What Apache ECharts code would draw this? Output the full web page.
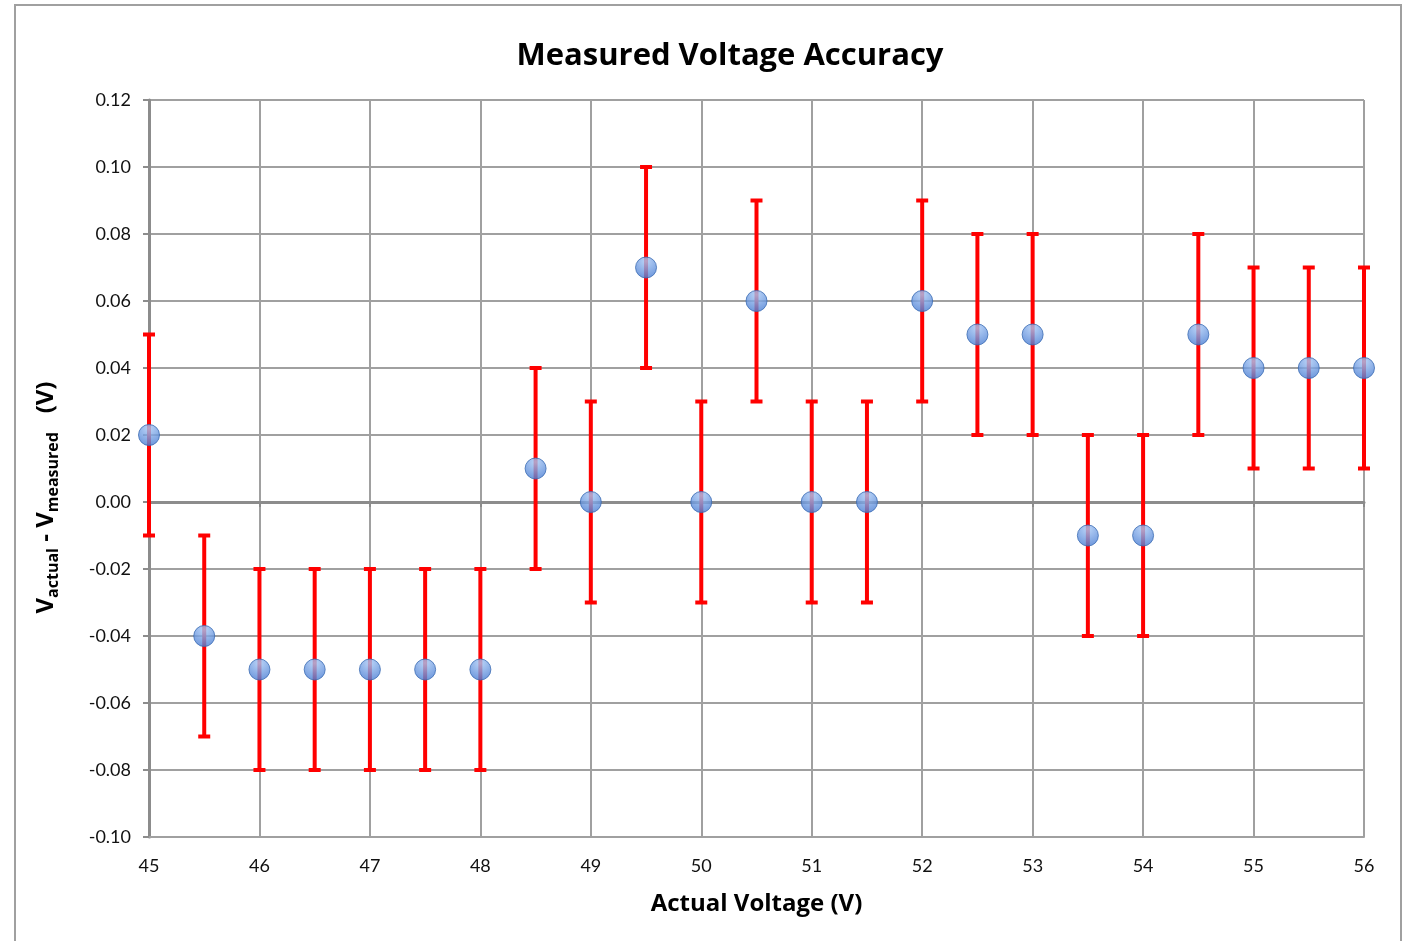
<!DOCTYPE html>
<html>
<head>
<meta charset="utf-8">
<script src="https://cdn.jsdelivr.net/npm/echarts@6/dist/echarts.min.js"></script>
<style>
html,body{margin:0;padding:0;background:#fff;}
#chart{width:1412px;height:941px;}
</style>
</head>
<body>
<div id="chart"></div>
<script>
// Data
var actualVoltage = [45, 45.5, 46, 46.5, 47, 47.5, 48, 48.5, 49, 49.5, 50, 50.5, 51, 51.5, 52, 52.5, 53, 53.5, 54, 54.5, 55, 55.5, 56];
var voltageDiff   = [0.02, -0.04, -0.05, -0.05, -0.05, -0.05, -0.05, 0.01, 0.00, 0.07, 0.00, 0.06, 0.00, 0.00, 0.06, 0.05, 0.05, -0.01, -0.01, 0.05, 0.04, 0.04, 0.04];
var errorAmount   = [0.03, 0.03, 0.03, 0.03, 0.03, 0.03, 0.03, 0.03, 0.03, 0.03, 0.03, 0.03, 0.03, 0.03, 0.03, 0.03, 0.03, 0.03, 0.03, 0.03, 0.03, 0.03, 0.03];
var titleText = 'Measured Voltage Accuracy';
var xAxisTitle = 'Actual Voltage (V)';

var pointData = actualVoltage.map(function (x, i) { return [x, voltageDiff[i]]; });
var errorData = actualVoltage.map(function (x, i) {
  return [x, voltageDiff[i] - errorAmount[i], voltageDiff[i] + errorAmount[i]];
});

var FONT = 'Lato, "Open Sans", sans-serif';
var BOLD = '"Open Sans", sans-serif';
var chart = echarts.init(document.getElementById('chart'));
chart.setOption({
  backgroundColor: '#fff',
  animation: false,
  graphic: [{
    type: 'rect',
    shape: { x: 15, y: 5, width: 1386, height: 960 },
    style: { fill: null, stroke: '#a0a0a0', lineWidth: 2 },
    silent: true, z: -1
  }, {
    type: 'text',
    x: 730, y: 56,
    style: {
      text: titleText, fontFamily: BOLD, fontSize: 31, fontWeight: 'bold', fill: '#000',
      align: 'center', verticalAlign: 'middle'
    },
    silent: true
  }],
  grid: { left: 149, right: 48, top: 100, bottom: 104 },
  xAxis: [{
    type: 'value',
    min: 45, max: 56, interval: 1,
    name: xAxisTitle,
    nameLocation: 'middle',
    nameGap: 55,
    nameTextStyle: { fontFamily: BOLD, fontSize: 24, fontWeight: 'bold', color: '#000' },
    axisLine: { onZero: false, show: true, lineStyle: { color: '#a0a0a0', width: 2 } },
    axisTick: { show: false },
    axisLabel: { fontFamily: FONT, fontSize: 18, color: '#111', margin: 20 },
    splitLine: { show: true, lineStyle: { color: '#a0a0a0', width: 2 } }
  }, {
    type: 'value',
    position: 'bottom',
    min: 45, max: 56, interval: 1,
    axisLine: { onZero: true, show: true, lineStyle: { color: '#8c8c8c', width: 3 } },
    axisTick: { show: true, length: 5, lineStyle: { color: '#8c8c8c', width: 2 } },
    axisLabel: { show: false },
    splitLine: { show: false }
  }],
  yAxis: {
    type: 'value',
    min: -0.10, max: 0.12, interval: 0.02,
    name: '{v|V}{s|actual}{v| - V}{s|measured}{v|   (V)}',
    nameLocation: 'middle',
    nameGap: 88,
    nameTextStyle: {
      fontFamily: FONT, color: '#000',
      padding: [0, 58, 0, 0],
      rich: {
        v: { fontFamily: BOLD, fontSize: 24, fontWeight: 'bold', color: '#000', lineHeight: 30 },
        s: { fontFamily: BOLD, fontSize: 16, fontWeight: 'bold', color: '#000', padding: [14, 0, 0, 0], lineHeight: 30 }
      }
    },
    axisLine: { show: true, lineStyle: { color: '#8c8c8c', width: 3 } },
    axisTick: { show: true, length: 6, lineStyle: { color: '#8c8c8c', width: 2 } },
    axisLabel: {
      fontFamily: FONT, fontSize: 18, color: '#111', margin: 18,
      formatter: function (v) { return v.toFixed(2); }
    },
    splitLine: { show: true, lineStyle: { color: '#a0a0a0', width: 2 } }
  },
  series: [{
    type: 'custom',
    name: 'error',
    data: errorData,
    z: 3,
    renderItem: function (params, api) {
      var x = api.value(0);
      var lo = api.coord([x, api.value(1)]);
      var hi = api.coord([x, api.value(2)]);
      var hw = 6;
      var st = { stroke: '#ff0000', lineWidth: 4, fill: null };
      return {
        type: 'group',
        children: [
          { type: 'line', shape: { x1: lo[0], y1: lo[1], x2: hi[0], y2: hi[1] }, style: st },
          { type: 'line', shape: { x1: lo[0] - hw, y1: lo[1], x2: lo[0] + hw, y2: lo[1] }, style: st },
          { type: 'line', shape: { x1: hi[0] - hw, y1: hi[1], x2: hi[0] + hw, y2: hi[1] }, style: st }
        ]
      };
    }
  }, {
    type: 'scatter',
    data: pointData,
    symbol: 'circle',
    symbolSize: 21,
    z: 5,
    itemStyle: {
      color: {
        type: 'radial', x: 0.5, y: 0.2, r: 0.9,
        colorStops: [{ offset: 0, color: '#a9c9f5' }, { offset: 1, color: '#3c73cf' }]
      },
      borderColor: '#3b6bb3',
      borderWidth: 1
    }
  }]
});
</script>
</body>
</html>
